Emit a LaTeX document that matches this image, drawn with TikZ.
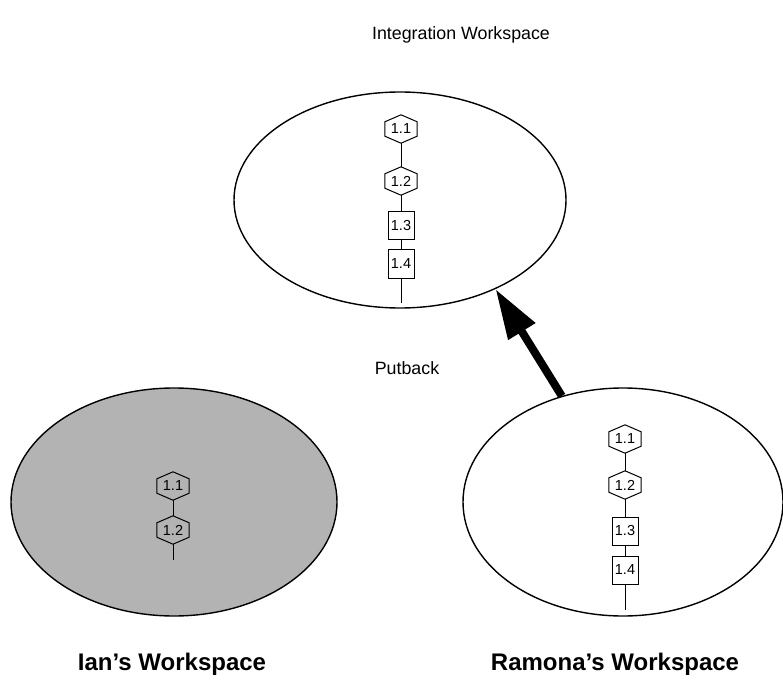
\documentclass[tikz,border=0pt]{standalone}
\usepackage{fontspec}
\setmainfont{Liberation Sans}
\usetikzlibrary{shapes.geometric,arrows.meta}
\definecolor{iangray}{RGB}{179,179,179}
\tikzset{
  ws/.style={ellipse, draw, line width=1.4pt, inner sep=0pt},
  hexbox/.style={rectangle, draw=none, minimum width=32pt, minimum height=28pt, inner sep=0pt, font=\fontsize{14.5}{16}\selectfont},
  sqbox/.style={rectangle, draw, line width=1pt, minimum width=26pt, minimum height=28pt, inner sep=0pt, font=\fontsize{14.5}{16}\selectfont},
  link/.style={line width=1pt},
  title/.style={font=\fontsize{17.8}{20}\selectfont},
  btitle/.style={font=\fontsize{24}{26}\selectfont\bfseries},
}
\newcommand{\hexn}[3]{%
  \node[hexbox] (#1) at (#2) {#3};
  \draw[link] (#1.north) -- ([yshift=-7pt]#1.north east) -- ([yshift=7pt]#1.south east) -- (#1.south) -- ([yshift=7pt]#1.south west) -- ([yshift=-7pt]#1.north west) -- cycle;}
\begin{document}
\begin{tikzpicture}[x=1pt,y=-1pt]
\useasboundingbox (0,0) rectangle (783,684);
% workspaces
\node[ws, minimum width=332pt, minimum height=216pt] (top) at (400,200) {};
\node[ws, fill=iangray, minimum width=326pt, minimum height=228pt] (ian) at (174,502) {};
\node[ws, minimum width=320pt, minimum height=228pt] (ramona) at (623,502) {};
% integration chain
\hexn{t1}{401,129}{1.1}
\hexn{t2}{401,181}{1.2}
\node[sqbox] (t3) at (401,226) {1.3};
\node[sqbox] (t4) at (401,264) {1.4};
\coordinate (tt) at (401,303);
\draw[link] (t1.south) -- (t2.north);
\draw[link] (t2.south) -- (t3.north);
\draw[link] (t3.south) -- (t4.north);
\draw[link] (t4.south) -- (tt);
% ian chain
\hexn{i1}{173,486}{1.1}
\hexn{i2}{173,530}{1.2}
\coordinate (it) at (173,560);
\draw[link] (i1.south) -- (i2.north);
\draw[link] (i2.south) -- (it);
% ramona chain
\hexn{r1}{625,439}{1.1}
\hexn{r2}{625,485}{1.2}
\node[sqbox] (r3) at (625,531) {1.3};
\node[sqbox] (r4) at (625,570) {1.4};
\coordinate (rt) at (625,610);
\draw[link] (r1.south) -- (r2.north);
\draw[link] (r2.south) -- (r3.north);
\draw[link] (r3.south) -- (r4.north);
\draw[link] (r4.south) -- (rt);
% putback arrow
\draw[line width=8pt, -{Triangle[length=50pt,width=30pt]}] (ramona.120) -- (top.-43);
% labels
\node[title] (lint) at (461,35) {Integration Workspace};
\node[title] (lput) at (407,368) {Putback};
\node[btitle] (lian) at (172,664) {Ian’s Workspace};
\node[btitle] (lram) at (615,664) {Ramona’s Workspace};
\end{tikzpicture}
\end{document}
